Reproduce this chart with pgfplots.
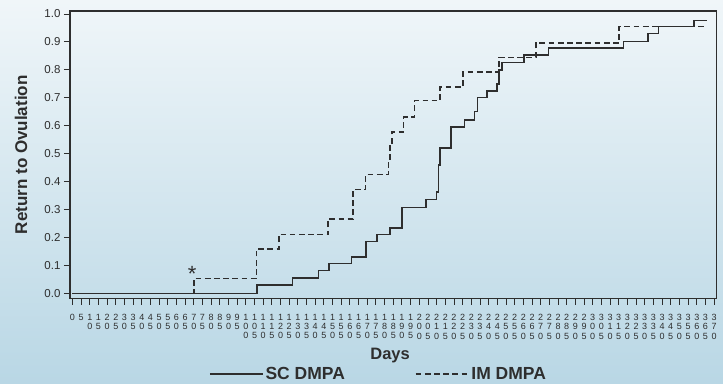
\documentclass[border=0pt]{standalone}
\usepackage{pgfplots}
\pgfplotsset{compat=1.18}
\usepackage{fontspec}
\setmainfont{Liberation Sans}
\definecolor{bgtop}{HTML}{F0F6F9}
\definecolor{bgbot}{HTML}{B9D7E5}
\definecolor{ink}{HTML}{2E2E2E}
\begin{document}
\begin{tikzpicture}[x=1pt,y=1pt]
\useasboundingbox (0,0) rectangle (723,383);
\shade[top color=bgtop,bottom color=bgbot] (0,0) rectangle (723,383);
\begin{axis}[
  at={(70pt,84.5pt)}, anchor=south west,
  scale only axis, width=646.7pt, height=287.5pt,
  xmin=-1.4, xmax=371.5, ymin=-0.0186, ymax=1.0107,
  axis line style={ink, line width=1.2pt},
  tick style={ink, line width=0.9pt},
  tick align=outside, tick pos=left, major tick length=6pt,
  xtick={0,5,...,370},
  xticklabels={0,5,
  {1\\0},{1\\5},{2\\0},{2\\5},{3\\0},{3\\5},{4\\0},{4\\5},{5\\0},{5\\5},{6\\0},{6\\5},{7\\0},{7\\5},{8\\0},{8\\5},{9\\0},{9\\5},
  {1\\0\\0},{1\\0\\5},{1\\1\\0},{1\\1\\5},{1\\2\\0},{1\\2\\5},{1\\3\\0},{1\\3\\5},{1\\4\\0},{1\\4\\5},{1\\5\\0},{1\\5\\5},{1\\6\\0},{1\\6\\5},{1\\7\\0},{1\\7\\5},{1\\8\\0},{1\\8\\5},{1\\9\\0},{1\\9\\5},
  {2\\0\\0},{2\\0\\5},{2\\1\\0},{2\\1\\5},{2\\2\\0},{2\\2\\5},{2\\3\\0},{2\\3\\5},{2\\4\\0},{2\\4\\5},{2\\5\\0},{2\\5\\5},{2\\6\\0},{2\\6\\5},{2\\7\\0},{2\\7\\5},{2\\8\\0},{2\\8\\5},{2\\9\\0},{2\\9\\5},
  {3\\0\\0},{3\\0\\5},{3\\1\\0},{3\\1\\5},{3\\2\\0},{3\\2\\5},{3\\3\\0},{3\\3\\5},{3\\4\\0},{3\\4\\5},{3\\5\\0},{3\\5\\5},{3\\6\\0},{3\\6\\5},{3\\7\\0}},
  xticklabel style={font=\fontsize{9}{9.3}\selectfont, text=ink, align=center, anchor=north, inner sep=1pt, yshift=-8.5pt},
  ytick={0,0.1,...,1.0},
  yticklabel style={font=\fontsize{11.5}{12}\selectfont, text=ink, /pgf/number format/.cd, fixed, fixed zerofill, precision=1, assume math mode=true},
  xlabel={\textbf{Days}},
  xlabel style={font=\fontsize{16.5}{18}\selectfont, text=ink, at={(axis description cs:0.495,0)}, anchor=center, yshift=-57pt},
  ylabel={\textbf{Return to Ovulation}},
  ylabel style={font=\fontsize{17}{18}\selectfont, text=ink, at={(axis description cs:-0.0758,0.5)}, anchor=center},
  legend columns=2,
  legend style={at={(axis description cs:0.477,-0.263)}, anchor=center, draw=none, fill=none,
    font=\fontsize{17.5}{19}\selectfont\bfseries, text=ink,
    /tikz/every even column/.append style={column sep=68pt}},
  legend image code/.code={\draw[#1] (0pt,0pt) -- (53pt,0pt);},
]
\addplot[const plot, ink, line width=1.5pt] coordinates {
(0,0) (106.4,0.029) (127,0.055) (142,0.081) (148,0.106) (161,0.130) (169.3,0.186) (175.6,0.210) (183,0.234) (190,0.307) (204,0.336) (210,0.363) (211,0.460) (212,0.521) (218.4,0.596) (226,0.621) (231.7,0.650) (233.6,0.701) (239,0.725) (244.7,0.750) (246,0.800) (247.7,0.827) (260.5,0.853) (274.5,0.879) (317.8,0.901) (331.8,0.931) (338,0.955) (358.5,0.976) (365.8,0.976)
};
\addlegendentry{SC DMPA}
\addplot[const plot, ink, line width=1.5pt, dash pattern=on 5.7pt off 3.5pt] coordinates {
(0,0) (70,0.053) (106,0.158) (119,0.210) (147.5,0.266) (161.8,0.371) (169,0.425) (182.3,0.476) (183,0.528) (184.2,0.577) (191,0.632) (197.3,0.690) (212,0.739) (225.2,0.792) (246,0.845) (267.2,0.897) (315.3,0.955) (365.5,0.955)
};
\addlegendentry{IM DMPA}
\node[font=\fontsize{22}{22}\selectfont, text=ink] at (axis cs:69,0.07) {*};
\end{axis}
\end{tikzpicture}
\end{document}
